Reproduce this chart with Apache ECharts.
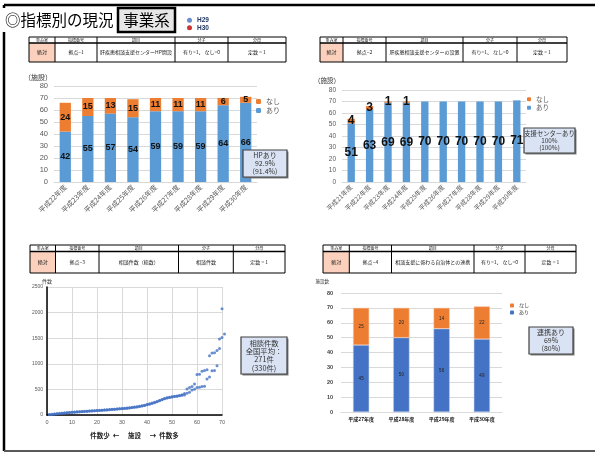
<!DOCTYPE html>
<html><head><meta charset="utf-8">
<script src="https://cdn.jsdelivr.net/npm/echarts@6/dist/echarts.min.js"></script>
<style>html,body{margin:0;padding:0;background:#fff}#c{width:595px;height:452px}</style>
</head><body><div id="c"></div>
<script>
const FONT = "'Liberation Sans','Noto Sans CJK JP',sans-serif";
const JP = "'Noto Sans CJK JP','Liberation Sans',sans-serif";

// ---- chart 1: HP開設 ----
const hpYears = ['平成22年度','平成23年度','平成24年度','平成25年度','平成26年度','平成27年度','平成28年度','平成29年度','平成30年度'];
const hpAri   = [42,55,57,54,59,59,59,64,66];
const hpNashi = [24,15,13,15,11,11,11,6,5];

// ---- chart 2: 支援センター設置 ----
const centerYears = ['平成21年度','平成22年度','平成23年度','平成24年度','平成25年度','平成26年度','平成27年度','平成28年度','平成29年度','平成30年度'];
const centerAri   = [51,63,69,69,70,70,70,70,70,71];
const centerNashi = [4,3,1,1,0,0,0,0,0,0];

// ---- chart 3: 相談件数 (sorted per facility) ----
const consultH29 = [10,15,20,25,30,35,40,45,50,55,
  58,62,65,68,72,75,78,82,85,88,
  92,95,98,102,106,110,114,118,122,126,
  130,135,140,148,155,162,170,180,192,205,
  218,232,248,265,285,305,320,335,345,355,
  365,372,380,395,420,509,535,555,607,790,
  797,855,868,882,1155,1210,1215,1260,1300,2076];
const consultH30 = [8,12,18,22,28,32,38,42,48,52,
  56,60,63,66,70,73,76,80,83,86,
  90,93,96,100,104,108,112,116,120,124,
  128,132,138,145,152,158,165,175,185,198,
  212,225,240,258,278,298,315,330,340,350,
  360,368,375,385,392,424,444,490,503,535,
  542,555,560,705,740,862,870,960,1482,1515,1580];

// ---- chart 4: 自治体との連携 ----
const linkYears = ['平成27年度','平成28年度','平成29年度','平成30年度'];
const linkAri   = [45,50,56,49];
const linkNashi = [25,20,14,22];

// ---- tables ----
const tableHeader = ['重み室','指標番号','項目','分子','分母'];
const tableRows = [
  ['絶対','拠点−1','肝疾患相談支援センターHP開設','有り=1、 なし=0','定数 = 1'],
  ['絶対','拠点−2','肝疾患相談支援センターの設置','有り=1、 なし=0','定数 = 1'],
  ['絶対','拠点−3','相談件数（総数）','相談件数','定数 = 1'],
  ['絶対','拠点−4','相談支援に係わる自治体との連携','有り=1、 なし=0','定数 = 1']
];

const BLUE1 = '#5b9bd5', ORANGE = '#ed7d31', BLUE2 = '#4472c4';

function makeTable(cols, top, headBottom, bottom, row) {
  const els = [];
  els.push({type:'rect', shape:{x:cols[0], y:headBottom, width:cols[1]-cols[0], height:bottom-headBottom}, style:{fill:'#fbd0bd'}});
  els.push({type:'rect', shape:{x:cols[0], y:top, width:cols[cols.length-1]-cols[0], height:bottom-top}, style:{fill:'none', stroke:'#000', lineWidth:1}});
  els.push({type:'line', shape:{x1:cols[0], y1:headBottom, x2:cols[cols.length-1], y2:headBottom}, style:{stroke:'#000', lineWidth:1.3}});
  for (let i = 1; i < cols.length-1; i++) {
    els.push({type:'line', shape:{x1:cols[i], y1:top, x2:cols[i], y2:bottom}, style:{stroke:'#000', lineWidth:1}});
  }
  for (let i = 0; i < cols.length-1; i++) {
    const cx = (cols[i]+cols[i+1])/2;
    els.push({type:'text', style:{text:tableHeader[i], x:cx, y:(top+headBottom)/2+0.3, font:'4px '+JP, fill:'#222', textAlign:'center', textVerticalAlign:'middle'}});
    els.push({type:'text', style:{text:row[i], x:cx, y:(headBottom+bottom)/2, font:'5px '+JP, fill:'#222', textAlign:'center', textVerticalAlign:'middle'}});
  }
  return els;
}

function noteBox(x, y, w, h, lines, size, lh) {
  const els = [];
  els.push({type:'rect', z:100, shape:{x:x+1.5, y:y+1.5, width:w, height:h}, style:{fill:'#7f7f7f'}});
  els.push({type:'rect', z:101, shape:{x:x, y:y, width:w, height:h}, style:{fill:'#dae3f3', stroke:'#404040', lineWidth:1.2}});
  const n = lines.length;
  const cy = y + h/2;
  lines.forEach((t, i) => {
    els.push({type:'text', z:102, style:{text:t, x:x+w/2, y:cy+(i-(n-1)/2)*lh, font:size+'px '+JP, fill:'#333', textAlign:'center', textVerticalAlign:'middle'}});
  });
  return els;
}

const graphics = [].concat(
  // frame
  [{type:'line', shape:{x1:4, y1:5, x2:595, y2:5}, style:{stroke:'#000', lineWidth:2.5}},
   {type:'line', shape:{x1:4, y1:5, x2:4, y2:451}, style:{stroke:'#000', lineWidth:2.5}},
   {type:'line', shape:{x1:4, y1:451, x2:595, y2:451}, style:{stroke:'#595959', lineWidth:2}},
   {type:'rect', shape:{x:0, y:8, width:116, height:24}, style:{fill:'#fff'}},
   {type:'text', style:{text:'◎指標別の現況', x:5, y:20.5, font:'15.5px '+JP, fill:'#000', textVerticalAlign:'middle'}},
   {type:'rect', shape:{x:118, y:8, width:57, height:24}, style:{fill:'#e7e6e6', stroke:'#000', lineWidth:2.5}},
   {type:'text', style:{text:'事業系', x:146.5, y:20.5, font:'15.5px '+JP, fill:'#000', textAlign:'center', textVerticalAlign:'middle'}}
  ],
  makeTable([29,55,97,175,228,286], 37, 43, 62, tableRows[0]),
  makeTable([320,343,386,463,517,567], 37, 43, 62, tableRows[1]),
  makeTable([30,55.5,99,178.5,233.3,285], 245, 251.5, 273, tableRows[2]),
  makeTable([323,349.3,391.5,474,525,576], 245, 251.5, 273, tableRows[3]),
  noteBox(243, 150, 44, 27, ['HPあり','92.9%','(91.4%)'], 7, 8),
  noteBox(524, 128, 51, 25, ['支援センターあり','100%','(100%)'], 6.3, 7),
  noteBox(241, 337, 46, 37, ['相談件数','全国平均：','271件','(330件)'], 7.3, 8.3),
  noteBox(529, 327, 44, 27, ['連携あり','69%','(80%)'], 7, 8)
);

const barLabel = (size) => ({show:true, position:'inside', fontSize:size, fontWeight:'bold', color:'#111', fontFamily:FONT,
  formatter: p => p.value ? String(p.value) : ''});

const legendItems = (blue) => [{name:'なし', itemStyle:{color:ORANGE}}, {name:'あり', itemStyle:{color:blue}}];

const option = {
  animation:false,
  textStyle:{fontFamily:FONT},
  graphic: graphics,
  legend: [
    {left:251, top:93, orient:'vertical', itemWidth:5, itemHeight:5, itemGap:2, selectedMode:false,
     textStyle:{fontSize:7, color:'#595959', fontFamily:JP}, data:legendItems(BLUE1)},
    {left:522, top:91, orient:'vertical', itemWidth:4, itemHeight:4, itemGap:2, selectedMode:false,
     textStyle:{fontSize:6.5, color:'#595959', fontFamily:JP}, data:legendItems(BLUE1)},
    {left:505, top:298, orient:'vertical', itemWidth:4, itemHeight:4, itemGap:2, selectedMode:false,
     textStyle:{fontSize:5, color:'#333', fontFamily:JP}, data:legendItems(BLUE2)},
    {left:182, top:12, orient:'vertical', itemWidth:5, itemHeight:5, itemGap:1, selectedMode:false,
     textStyle:{fontSize:6.5, fontWeight:'bold', color:'#1f3864', fontFamily:FONT},
     data:[{name:'H29', icon:'circle', itemStyle:{color:BLUE2}}, {name:'H30', icon:'circle', itemStyle:{color:'#c00000'}}]}
  ],
  grid: [
    {left:54, top:86, width:203, height:96},
    {left:342, top:90, width:184, height:92},
    {left:47, top:287, width:175, height:128},
    {left:341, top:293, width:161, height:119}
  ],
  xAxis: [
    {gridIndex:0, type:'category', data:hpYears, axisTick:{show:false},
     axisLine:{lineStyle:{color:'#d9d9d9'}}, axisLabel:{fontSize:7, rotate:45, interval:0, margin:4, color:'#595959', fontFamily:JP}},
    {gridIndex:1, type:'category', data:centerYears, axisTick:{show:false},
     axisLine:{lineStyle:{color:'#d9d9d9'}}, axisLabel:{fontSize:6.5, rotate:45, interval:0, margin:4, color:'#595959', fontFamily:JP}},
    {gridIndex:2, type:'value', min:0, max:70, interval:10, axisTick:{show:false},
     axisLine:{lineStyle:{color:'#000', width:1.5}}, splitLine:{show:true, lineStyle:{color:'#d9d9d9'}},
     axisLabel:{fontSize:5.5, color:'#595959', margin:5},
     name:'件数少  ←      施設      →  件数多', nameLocation:'middle', nameGap:17,
     nameTextStyle:{fontSize:6.5, fontWeight:'bold', color:'#222', fontFamily:JP}},
    {gridIndex:3, type:'category', data:linkYears, axisTick:{show:false},
     axisLine:{lineStyle:{color:'#d9d9d9'}}, axisLabel:{fontSize:5, fontWeight:'bold', color:'#111', margin:5, fontFamily:JP}}
  ],
  yAxis: [
    {gridIndex:0, type:'value', min:0, max:80, interval:10, axisLine:{show:false}, axisTick:{show:false},
     splitLine:{lineStyle:{color:'#d9d9d9'}}, axisLabel:{fontSize:7.5, color:'#595959', margin:6},
     name:'（施設）', nameLocation:'end', nameGap:5, nameTextStyle:{fontSize:7, color:'#333', align:'right', padding:[0,2,0,0], fontFamily:JP}},
    {gridIndex:1, type:'value', min:0, max:80, interval:10, axisLine:{show:false}, axisTick:{show:false},
     splitLine:{lineStyle:{color:'#d9d9d9'}}, axisLabel:{fontSize:6.5, color:'#595959', margin:6},
     name:'（施設）', nameLocation:'end', nameGap:6, nameTextStyle:{fontSize:6.5, color:'#333', align:'right', padding:[0,2,0,0], fontFamily:JP}},
    {gridIndex:2, type:'value', min:0, max:2500, interval:500, axisTick:{show:false},
     axisLine:{show:true, lineStyle:{color:'#000', width:1.5}}, splitLine:{lineStyle:{color:'#d9d9d9'}},
     axisLabel:{fontSize:5, color:'#595959', margin:4, formatter: v => String(v)},
     name:'件数', nameLocation:'end', nameGap:3, nameTextStyle:{fontSize:5, color:'#333', fontFamily:JP}},
    {gridIndex:3, type:'value', min:0, max:80, interval:10, axisLine:{show:false}, axisTick:{show:false},
     splitLine:{lineStyle:{color:'#d9d9d9'}}, axisLabel:{fontSize:5.5, color:'#404040', margin:8, fontWeight:'bold'},
     name:'施設数', nameLocation:'end', nameGap:9, nameTextStyle:{fontSize:4.5, color:'#333', align:'right', padding:[0,12,0,0], fontFamily:JP}}
  ],
  series: [
    {name:'あり', type:'bar', stack:'s1', xAxisIndex:0, yAxisIndex:0, data:hpAri, barCategoryGap:'50%',
     itemStyle:{color:BLUE1}, label:barLabel(9)},
    {name:'なし', type:'bar', stack:'s1', xAxisIndex:0, yAxisIndex:0, data:hpNashi, barCategoryGap:'50%',
     itemStyle:{color:ORANGE}, label:barLabel(9)},
    {name:'あり', type:'bar', stack:'s2', xAxisIndex:1, yAxisIndex:1, data:centerAri, barCategoryGap:'60%',
     itemStyle:{color:BLUE1}, label:barLabel(12)},
    {name:'なし', type:'bar', stack:'s2', xAxisIndex:1, yAxisIndex:1, data:centerNashi, barCategoryGap:'60%',
     itemStyle:{color:ORANGE}, label:barLabel(12)},
    {name:'H29', type:'scatter', xAxisIndex:2, yAxisIndex:2, symbolSize:3, clip:false,
     data:consultH29.map((v,i)=>[i+1,v]), itemStyle:{color:BLUE2}},
    {name:'H30', type:'scatter', xAxisIndex:2, yAxisIndex:2, symbolSize:3, clip:false,
     data:consultH30.map((v,i)=>[i+1,v]), itemStyle:{color:BLUE2}},
    {name:'あり', type:'bar', stack:'s4', xAxisIndex:3, yAxisIndex:3, data:linkAri, barCategoryGap:'60%',
     itemStyle:{color:BLUE2, borderColor:'#b4c7e7', borderWidth:0.5},
     label:{show:true, position:'inside', fontSize:4.5, color:'#222'}},
    {name:'なし', type:'bar', stack:'s4', xAxisIndex:3, yAxisIndex:3, data:linkNashi, barCategoryGap:'60%',
     itemStyle:{color:ORANGE, borderColor:'#f8cbad', borderWidth:0.5},
     label:{show:true, position:'inside', fontSize:4.5, color:'#222'}}
  ]
};

const chart = echarts.init(document.getElementById('c'), null, {renderer:'canvas'});
chart.setOption(option);
</script>
</body></html>
